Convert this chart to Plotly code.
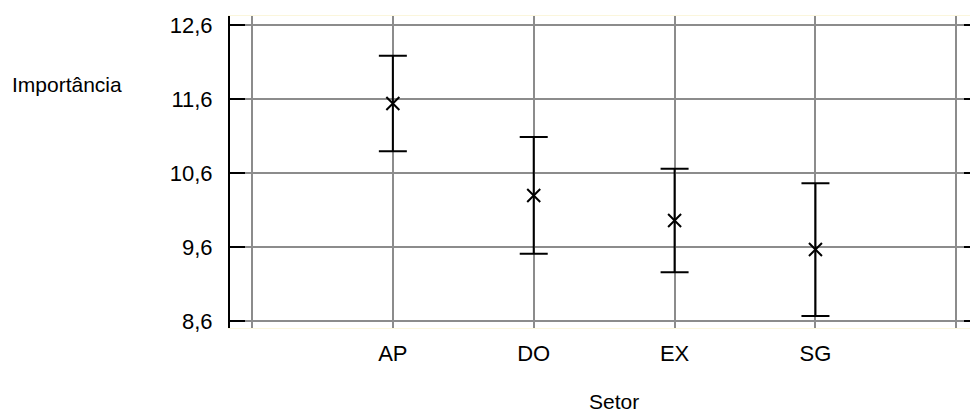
import plotly.graph_objects as go

categories = ["AP", "DO", "EX", "SG"]
means = [11.54, 10.297, 9.957, 9.565]
half_ci = [0.645, 0.79, 0.70, 0.897]
y_ticks = [8.6, 9.6, 10.6, 11.6, 12.6]
y_tick_text = ["8,6", "9,6", "10,6", "11,6", "12,6"]

FONT = "Liberation Sans, Arial, sans-serif"
xpos = list(range(1, len(categories) + 1))

fig = go.Figure()
fig.add_trace(go.Scatter(
    x=xpos, y=means, mode="markers",
    marker=dict(symbol="x-thin-open", size=13, color="black",
                line=dict(width=2, color="black")),
    error_y=dict(type="data", array=half_ci, visible=True,
                 color="black", thickness=2, width=14),
    showlegend=False, hoverinfo="skip",
))
# invisible trace for the right-hand tick axis
fig.add_trace(go.Scatter(x=[xpos[0]], y=[means[0]], yaxis="y2", mode="markers",
                         marker=dict(opacity=0), showlegend=False, hoverinfo="skip"))

yrange = [8.505, 12.722]
fig.update_layout(
    width=970, height=414,
    margin=dict(l=230, r=0, t=16, b=86),
    paper_bgcolor="white", plot_bgcolor="white",
    font=dict(family=FONT, size=22, color="black"),
    xaxis=dict(
        range=[-0.156, 5.097],
        tickvals=list(range(0, len(categories) + 2)),
        ticktext=[""] + categories + [""],
        showgrid=True, gridcolor="#8c8c8c", gridwidth=1.5,
        zeroline=False, ticks="",
        showline=True, linecolor="#fbf6dc", linewidth=1, mirror=True,
        ticklabelstandoff=6,
        tickfont=dict(family=FONT, size=22),
    ),
    yaxis=dict(
        range=yrange,
        tickvals=y_ticks, ticktext=y_tick_text,
        showgrid=True, gridcolor="#8c8c8c", gridwidth=1.5,
        zeroline=False,
        showline=True, linecolor="black", linewidth=2,
        ticks="inside", ticklen=15, tickwidth=2, tickcolor="black",
        ticklabelstandoff=11,
        tickfont=dict(family=FONT, size=22),
    ),
    yaxis2=dict(
        range=yrange, overlaying="y", anchor="free", side="right",
        position=0.9905,
        tickvals=y_ticks, showticklabels=False,
        showgrid=False, zeroline=False, showline=False,
        ticks="outside", ticklen=8, tickwidth=2, tickcolor="black",
    ),
    annotations=[
        dict(text="Importância", xref="paper", yref="paper",
             x=-0.297, y=0.779, xanchor="left", yanchor="middle",
             showarrow=False, font=dict(family=FONT, size=21)),
        dict(text="Setor", xref="paper", yref="paper",
             x=0.519, y=-0.237, xanchor="center", yanchor="middle",
             showarrow=False, font=dict(family=FONT, size=21)),
    ],
)

fig.write_html("out.html", config={"displayModeBar": False},
               post_script="document.body.style.margin='0';document.body.style.overflow='hidden';")
